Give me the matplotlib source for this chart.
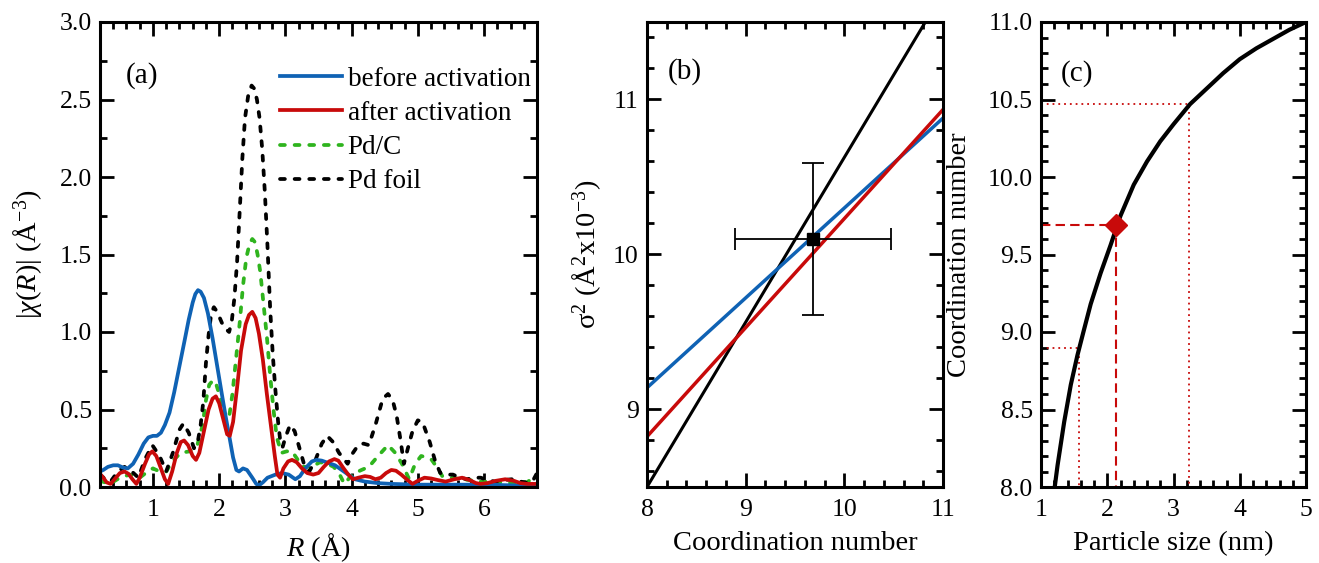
import matplotlib
matplotlib.use("Agg")
import matplotlib.pyplot as plt
from matplotlib.lines import Line2D
from matplotlib.ticker import MultipleLocator, FormatStrFormatter

plt.rcParams["font.family"] = ["Liberation Serif", "DejaVu Serif"]
plt.rcParams["mathtext.fontset"] = "custom"
plt.rcParams["mathtext.rm"] = "Liberation Serif"
plt.rcParams["mathtext.it"] = "Liberation Serif:italic"
plt.rcParams["mathtext.bf"] = "Liberation Serif:bold"

BLUE = "#0f62b4"
RED = "#c80a0a"
GREEN = "#2fb41e"
BLACK = "#000000"

# ---- (a) |chi(R)| curves ----
blue_r = [0.2, 0.25, 0.32, 0.4, 0.47, 0.55, 0.62, 0.7, 0.78, 0.86, 0.93, 1.0, 1.06, 1.12,
          1.18, 1.25, 1.32, 1.4, 1.48, 1.54, 1.6, 1.64, 1.68, 1.72, 1.77, 1.83, 1.9, 1.97,
          2.04, 2.1, 2.16, 2.21, 2.26, 2.3, 2.36, 2.42, 2.5, 2.56, 2.6, 2.66, 2.73, 2.85,
          2.95, 3.05, 3.15, 3.22, 3.3, 3.4, 3.47, 3.55, 3.65, 3.75, 3.85, 3.95, 4.05,
          4.2, 4.4, 4.6, 5.0, 5.5, 6.0, 6.5, 6.8]
blue_chi = [0.10, 0.11, 0.13, 0.14, 0.14, 0.125, 0.12, 0.15, 0.21, 0.28, 0.32, 0.33, 0.33,
            0.35, 0.40, 0.48, 0.61, 0.78, 0.95, 1.08, 1.19, 1.245, 1.27, 1.26, 1.22, 1.12,
            0.96, 0.78, 0.60, 0.45, 0.31, 0.19, 0.11, 0.10, 0.12, 0.11, 0.06, 0.02, 0.01,
            0.03, 0.06, 0.08, 0.09, 0.08, 0.05, 0.07, 0.12, 0.165, 0.175, 0.17, 0.155,
            0.14, 0.11, 0.08, 0.05, 0.035, 0.025, 0.02, 0.015, 0.015, 0.015, 0.01, 0.01]

red_r = [0.2, 0.25, 0.3, 0.36, 0.42, 0.5, 0.57, 0.63, 0.69, 0.75, 0.8, 0.88, 0.94, 0.99,
         1.05, 1.12, 1.18, 1.23, 1.29, 1.36, 1.42, 1.47, 1.53, 1.6, 1.65, 1.7, 1.77, 1.84,
         1.9, 1.95, 2.0, 2.06, 2.12, 2.16, 2.21, 2.27, 2.33, 2.4, 2.45, 2.5, 2.55, 2.6,
         2.66, 2.72, 2.78, 2.84, 2.88, 2.92, 2.97, 3.04, 3.1, 3.17, 3.25, 3.33, 3.42, 3.5,
         3.58, 3.66, 3.74, 3.8, 3.88, 3.95, 4.02, 4.1, 4.2, 4.28, 4.36, 4.44, 4.52, 4.6,
         4.67, 4.75, 4.83, 4.92, 5.0, 5.1, 5.2, 5.3, 5.42, 5.55, 5.67, 5.78, 5.88, 5.95,
         6.05, 6.18, 6.32, 6.45, 6.55, 6.65, 6.8]
red_chi = [0.085, 0.06, 0.03, 0.02, 0.05, 0.09, 0.10, 0.085, 0.05, 0.02, 0.06, 0.15, 0.21,
           0.23, 0.20, 0.12, 0.05, 0.02, 0.10, 0.22, 0.29, 0.30, 0.27, 0.20, 0.175, 0.22,
           0.36, 0.50, 0.57, 0.585, 0.54, 0.44, 0.34, 0.33, 0.42, 0.64, 0.88, 1.05, 1.11,
           1.13, 1.09, 0.99, 0.82, 0.60, 0.40, 0.20, 0.08, 0.06, 0.12, 0.165, 0.175, 0.16,
           0.12, 0.09, 0.08, 0.09, 0.13, 0.165, 0.18, 0.17, 0.12, 0.08, 0.05, 0.06, 0.07,
           0.065, 0.05, 0.06, 0.09, 0.11, 0.105, 0.08, 0.05, 0.02, 0.04, 0.06, 0.055,
           0.045, 0.035, 0.05, 0.06, 0.045, 0.025, 0.02, 0.025, 0.04, 0.05, 0.04, 0.025,
           0.02, 0.02]

pdc_r = [0.2, 0.35, 0.5, 0.65, 0.8, 0.92, 1.0, 1.1, 1.2, 1.3, 1.42, 1.55, 1.67, 1.75, 1.8,
         1.85, 1.91, 1.95, 2.0, 2.06, 2.1, 2.15, 2.2, 2.26, 2.31, 2.36, 2.41, 2.46, 2.5,
         2.54, 2.58, 2.62, 2.67, 2.72, 2.77, 2.82, 2.87, 2.94, 3.02, 3.1, 3.18, 3.26, 3.4,
         3.52, 3.63, 3.73, 3.82, 3.89, 3.97, 4.05, 4.15, 4.26, 4.4, 4.55, 4.66, 4.76,
         4.87, 4.96, 5.05, 5.15, 5.21, 5.3, 5.37, 5.5, 5.69, 5.95, 6.2, 6.45, 6.65, 6.8]
pdc_chi = [0.04, 0.02, 0.06, 0.08, 0.06, 0.10, 0.12, 0.10, 0.10, 0.17, 0.22, 0.23, 0.27,
           0.40, 0.56, 0.66, 0.69, 0.67, 0.60, 0.50, 0.43, 0.45, 0.60, 0.85, 1.06, 1.30,
           1.48, 1.57, 1.60, 1.58, 1.50, 1.39, 1.18, 0.97, 0.72, 0.50, 0.32, 0.22, 0.23,
           0.23, 0.18, 0.13, 0.13, 0.16, 0.15, 0.13, 0.08, 0.02, 0.06, 0.09, 0.11, 0.13,
           0.20, 0.27, 0.22, 0.15, 0.05, 0.15, 0.20, 0.19, 0.175, 0.12, 0.07, 0.06, 0.05,
           0.035, 0.03, 0.025, 0.03, 0.08]

foil_r = [0.2, 0.28, 0.36, 0.47, 0.57, 0.68, 0.78, 0.88, 0.99, 1.1, 1.2, 1.3, 1.4, 1.46,
          1.54, 1.62, 1.68, 1.72, 1.76, 1.8, 1.84, 1.88, 1.92, 1.97, 2.04, 2.1, 2.15, 2.19,
          2.23, 2.27, 2.31, 2.35, 2.39, 2.44, 2.49, 2.53, 2.57, 2.61, 2.65, 2.69, 2.73,
          2.77, 2.81, 2.85, 2.89, 2.93, 2.96, 3.0, 3.07, 3.14, 3.2, 3.28, 3.36, 3.45, 3.55,
          3.63, 3.72, 3.81, 3.94, 4.02, 4.1, 4.18, 4.26, 4.36, 4.47, 4.55, 4.62, 4.68,
          4.74, 4.79, 4.85, 4.92, 5.0, 5.07, 5.18, 5.26, 5.34, 5.45, 5.53, 5.64, 5.74,
          5.85, 5.95, 6.05, 6.16, 6.3, 6.42, 6.55, 6.68, 6.75, 6.8]
foil_chi = [0.08, 0.05, 0.035, 0.10, 0.13, 0.10, 0.06, 0.18, 0.27, 0.20, 0.10, 0.22, 0.37,
            0.41, 0.35, 0.25, 0.30, 0.40, 0.55, 0.80, 0.98, 1.12, 1.16, 1.13, 1.06, 1.02,
            1.00, 1.07, 1.22, 1.45, 1.78, 2.12, 2.38, 2.53, 2.59, 2.57, 2.50, 2.38, 2.18,
            1.90, 1.55, 1.15, 0.85, 0.62, 0.42, 0.27, 0.26, 0.32, 0.40, 0.36, 0.27, 0.15,
            0.10, 0.17, 0.28, 0.33, 0.29, 0.22, 0.15, 0.22, 0.27, 0.28, 0.27, 0.40, 0.57,
            0.60, 0.56, 0.46, 0.30, 0.15, 0.25, 0.36, 0.43, 0.42, 0.29, 0.17, 0.09, 0.08,
            0.08, 0.06, 0.05, 0.06, 0.06, 0.045, 0.035, 0.045, 0.05, 0.035, 0.025, 0.05,
            0.09]

# ---- (b) sigma^2 vs coordination number ----
cn_line = [8.0, 11.0]
sigma_blue = [9.14, 10.88]
sigma_red = [8.825, 10.935]
sigma_black = [8.5, 11.69]
cn_point, sigma_point = 9.68, 10.10
cn_err, sigma_err = 0.79, 0.49

# ---- (c) coordination number vs particle size ----
size_nm = [1.207, 1.25, 1.35, 1.45, 1.55, 1.64, 1.75, 1.9, 2.05, 2.2, 2.4, 2.6, 2.8, 3.0,
           3.25, 3.5, 3.75, 4.0, 4.25, 4.5, 4.75, 5.0]
cn_curve = [8.0, 8.14, 8.42, 8.66, 8.85, 9.0, 9.18, 9.38, 9.56, 9.75, 9.95, 10.1, 10.23,
            10.34, 10.47, 10.57, 10.67, 10.76, 10.83, 10.89, 10.95, 11.0]
size_best, cn_best = 2.13, 9.69
size_low, cn_low = 1.58, 8.90
size_high, cn_high = 3.23, 10.47

TICK_FS = 18.5
LABEL_FS = 20.5


def style_axes(ax):
    for sp in ax.spines.values():
        sp.set_linewidth(2.2)
    ax.tick_params(which="both", direction="in", top=True, right=True,
                   labelsize=TICK_FS, width=2.0)
    ax.tick_params(which="major", length=10)
    ax.tick_params(which="minor", length=5)
    ax.tick_params(axis="x", pad=9)
    ax.tick_params(axis="y", pad=6)


fig = plt.figure(figsize=(13.19, 5.63), dpi=100)
W, H = 1319, 563
ax_a = fig.add_axes([100 / W, 76 / H, 437 / W, 465 / H])
ax_b = fig.add_axes([647 / W, 76 / H, 296 / W, 465 / H])
ax_c = fig.add_axes([1041 / W, 76 / H, 265 / W, 465 / H])

# panel (a)
dash = (0, (1.3, 2.6))
LW_A = 2.7
ax_a.plot(pdc_r, pdc_chi, color=GREEN, lw=LW_A, ls=dash, dash_capstyle="round")
ax_a.plot(foil_r, foil_chi, color=BLACK, lw=LW_A, ls=dash, dash_capstyle="round")
ax_a.plot(blue_r, blue_chi, color=BLUE, lw=LW_A, solid_joinstyle="round")
ax_a.plot(red_r, red_chi, color=RED, lw=LW_A, solid_joinstyle="round")
ax_a.set_xlim(0.2, 6.8)
ax_a.set_ylim(0, 3.0)
ax_a.xaxis.set_major_locator(MultipleLocator(1))
ax_a.xaxis.set_minor_locator(MultipleLocator(0.2))
ax_a.yaxis.set_major_locator(MultipleLocator(0.5))
ax_a.yaxis.set_minor_locator(MultipleLocator(0.25))
ax_a.yaxis.set_major_formatter(FormatStrFormatter("%.1f"))
style_axes(ax_a)
ax_a.set_xlabel(r"$R$ (Å)", fontsize=LABEL_FS)
ax_a.set_ylabel(r"$|\chi(R)|$ (Å$^{-3}$)", fontsize=LABEL_FS)
ax_a.text(0.06, 0.885, "(a)", transform=ax_a.transAxes, fontsize=21, va="center")
handles = [
    Line2D([], [], color=BLUE, lw=LW_A),
    Line2D([], [], color=RED, lw=LW_A),
    Line2D([], [], color=GREEN, lw=LW_A, ls=dash, dash_capstyle="round"),
    Line2D([], [], color=BLACK, lw=LW_A, ls=dash, dash_capstyle="round"),
]
ax_a.legend(handles, ["before activation", "after activation", "Pd/C", "Pd foil"],
            loc="upper right", bbox_to_anchor=(0.985, 0.904), frameon=False,
            fontsize=19.5, handlelength=2.3, handletextpad=0.2, labelspacing=0.34,
            borderpad=0, borderaxespad=0)

# panel (b)
ax_b.plot(cn_line, sigma_black, color=BLACK, lw=2.2)
ax_b.plot(cn_line, sigma_blue, color=BLUE, lw=2.5)
ax_b.plot(cn_line, sigma_red, color=RED, lw=2.5)
ax_b.errorbar([cn_point], [sigma_point], xerr=[cn_err], yerr=[sigma_err], fmt="s",
              color=BLACK, ms=9, elinewidth=1.3, capsize=8, capthick=1.3, zorder=5)
ax_b.set_xlim(8, 11)
ax_b.set_ylim(8.5, 11.5)
ax_b.xaxis.set_major_locator(MultipleLocator(1))
ax_b.xaxis.set_minor_locator(MultipleLocator(0.2))
ax_b.yaxis.set_major_locator(MultipleLocator(1))
ax_b.yaxis.set_minor_locator(MultipleLocator(0.2))
ax_b.yaxis.set_major_formatter(FormatStrFormatter("%d"))
style_axes(ax_b)
ax_b.set_xlabel("Coordination number", fontsize=LABEL_FS)
ax_b.set_ylabel(r"σ$^2$ (Å$^2$x10$^{-3}$)", fontsize=LABEL_FS)
ax_b.text(0.07, 0.893, "(b)", transform=ax_b.transAxes, fontsize=21, va="center")

# panel (c)
ax_c.plot([1, size_high, size_high], [cn_high, cn_high, 8], color=RED, lw=1.3,
          ls=(0, (1, 2.2)))
ax_c.plot([1, size_low, size_low], [cn_low, cn_low, 8], color=RED, lw=1.3,
          ls=(0, (1, 2.2)))
ax_c.plot([1, size_best, size_best], [cn_best, cn_best, 8], color=RED, lw=1.5,
          ls=(0, (4.5, 2.5)))
ax_c.plot(size_nm, cn_curve, color=BLACK, lw=3.0, solid_joinstyle="round")
ax_c.plot([size_best], [cn_best], marker="D", color=RED, ms=11, ls="none", zorder=5)
ax_c.set_xlim(1, 5)
ax_c.set_ylim(8, 11)
ax_c.xaxis.set_major_locator(MultipleLocator(1))
ax_c.xaxis.set_minor_locator(MultipleLocator(0.2))
ax_c.yaxis.set_major_locator(MultipleLocator(0.5))
ax_c.yaxis.set_minor_locator(MultipleLocator(0.1))
ax_c.yaxis.set_major_formatter(FormatStrFormatter("%.1f"))
style_axes(ax_c)
ax_c.set_xlabel("Particle size (nm)", fontsize=LABEL_FS)
ax_c.set_ylabel("Coordination number", fontsize=LABEL_FS)
ax_c.text(0.074, 0.89, "(c)", transform=ax_c.transAxes, fontsize=21, va="center")

ax_a.yaxis.set_label_coords(-0.125, 0.5)
ax_b.yaxis.set_label_coords(-0.15, 0.5)
ax_c.yaxis.set_label_coords(-0.26, 0.5)
for ax in (ax_a, ax_b, ax_c):
    ax.xaxis.set_label_coords(0.5, -0.095)

fig.savefig("out.png", dpi=100)
